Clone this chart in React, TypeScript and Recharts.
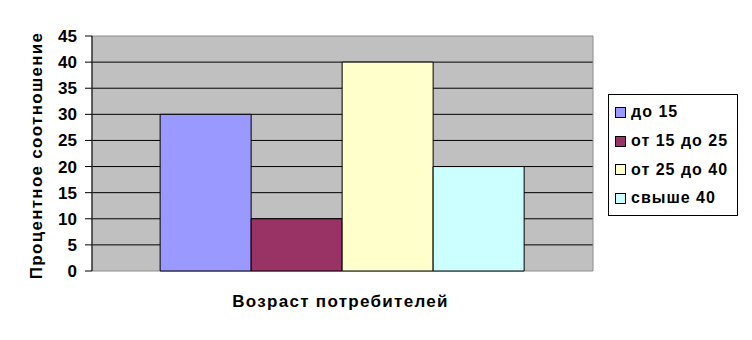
import { BarChart, Bar, XAxis, YAxis, CartesianGrid, Legend, ReferenceArea } from "recharts";

const categories = [""];
const seriesNames = ["до 15", "от 15 до 25", "от 25 до 40", "свыше 40"];
const seriesValues = [30, 10, 40, 20];
const seriesColors = ["#9999FF", "#993366", "#FFFFCC", "#CCFFFF"];
const yTicks = [0, 5, 10, 15, 20, 25, 30, 35, 40, 45];
const gridValues = [5, 10, 15, 20, 25, 30, 35, 40];

const data = categories.map((name) => {
  const row: Record<string, string | number> = { name };
  seriesNames.forEach((s, i) => {
    row["s" + i] = seriesValues[i];
  });
  return row;
});

const font = "'Liberation Sans', Arial, sans-serif";

const LegendBox = () => (
  <div
    style={{
      width: 130,
      height: 122,
      boxSizing: "border-box",
      border: "1px solid #000",
      background: "#fff",
      padding: "3px 0 0 6px",
      fontFamily: font,
      fontWeight: "bold",
      fontSize: 16,
      letterSpacing: 1,
      color: "#000",
    }}
  >
    {seriesNames.map((s, i) => (
      <div key={s} style={{ display: "flex", alignItems: "center", height: 28.7 }}>
        <span
          style={{
            width: 9,
            height: 9,
            border: "1px solid #000",
            background: seriesColors[i],
            marginRight: 5,
            flexShrink: 0,
          }}
        />
        {s}
      </div>
    ))}
  </div>
);

export default function App() {
  return (
    <>
      <style>{`body{margin:0;background:#fff}`}</style>
      <BarChart
        width={752}
        height={340}
        data={data}
        margin={{ top: 36, right: 159, bottom: 0, left: 0 }}
        barCategoryGap="13.6%"
        barGap={0}
      >
        <CartesianGrid
          vertical={false}
          fill="#C0C0C0"
          fillOpacity={1}
          stroke="#000"
          strokeWidth={1}
          horizontalValues={gridValues}
        />
        <ReferenceArea y1={0} y2={45} fill="none" stroke="#8c8c8c" strokeWidth={1} />
        <XAxis
          dataKey="name"
          height={69}
          axisLine={false}
          tickLine={false}
          tick={false}
          label={{
            content: ({ viewBox }: any) => (
              <text
                x={viewBox.x + viewBox.width / 2 - 2}
                y={viewBox.y + 36}
                textAnchor="middle"
                fontFamily={font}
                fontWeight="bold"
                fontSize={17}
                letterSpacing={1.3}
                fill="#000"
              >
                Возраст потребителей
              </text>
            ),
          }}
        />
        <YAxis
          width={92}
          domain={[0, 45]}
          ticks={yTicks}
          interval={0}
          axisLine={{ stroke: "#000", strokeWidth: 1 }}
          tickLine={{ stroke: "#000", strokeWidth: 1 }}
          tickSize={7}
          tickMargin={8}
          tick={{ fill: "#000", fontFamily: font, fontWeight: "bold", fontSize: 17 }}
          label={{
            content: ({ viewBox }: any) => {
              const cx = viewBox.x + 36;
              const cy = viewBox.y + viewBox.height / 2 + 2;
              return (
                <text
                  x={cx}
                  y={cy}
                  transform={`rotate(-90, ${cx}, ${cy})`}
                  textAnchor="middle"
                  dominantBaseline="central"
                  fontFamily={font}
                  fontWeight="bold"
                  fontSize={17}
                  letterSpacing={1.3}
                  fill="#000"
                >
                  Процентное соотношение
                </text>
              );
            },
          }}
        />
        <Legend
          layout="vertical"
          align="center"
          verticalAlign="middle"
          content={() => <LegendBox />}
          wrapperStyle={{ left: 608, top: 94, width: 130, height: 122 }}
        />
        {seriesNames.map((s, i) => (
          <Bar
            key={s}
            dataKey={"s" + i}
            name={s}
            fill={seriesColors[i]}
            stroke="#000"
            strokeWidth={1}
            isAnimationActive={false}
          />
        ))}
      </BarChart>
    </>
  );
}
